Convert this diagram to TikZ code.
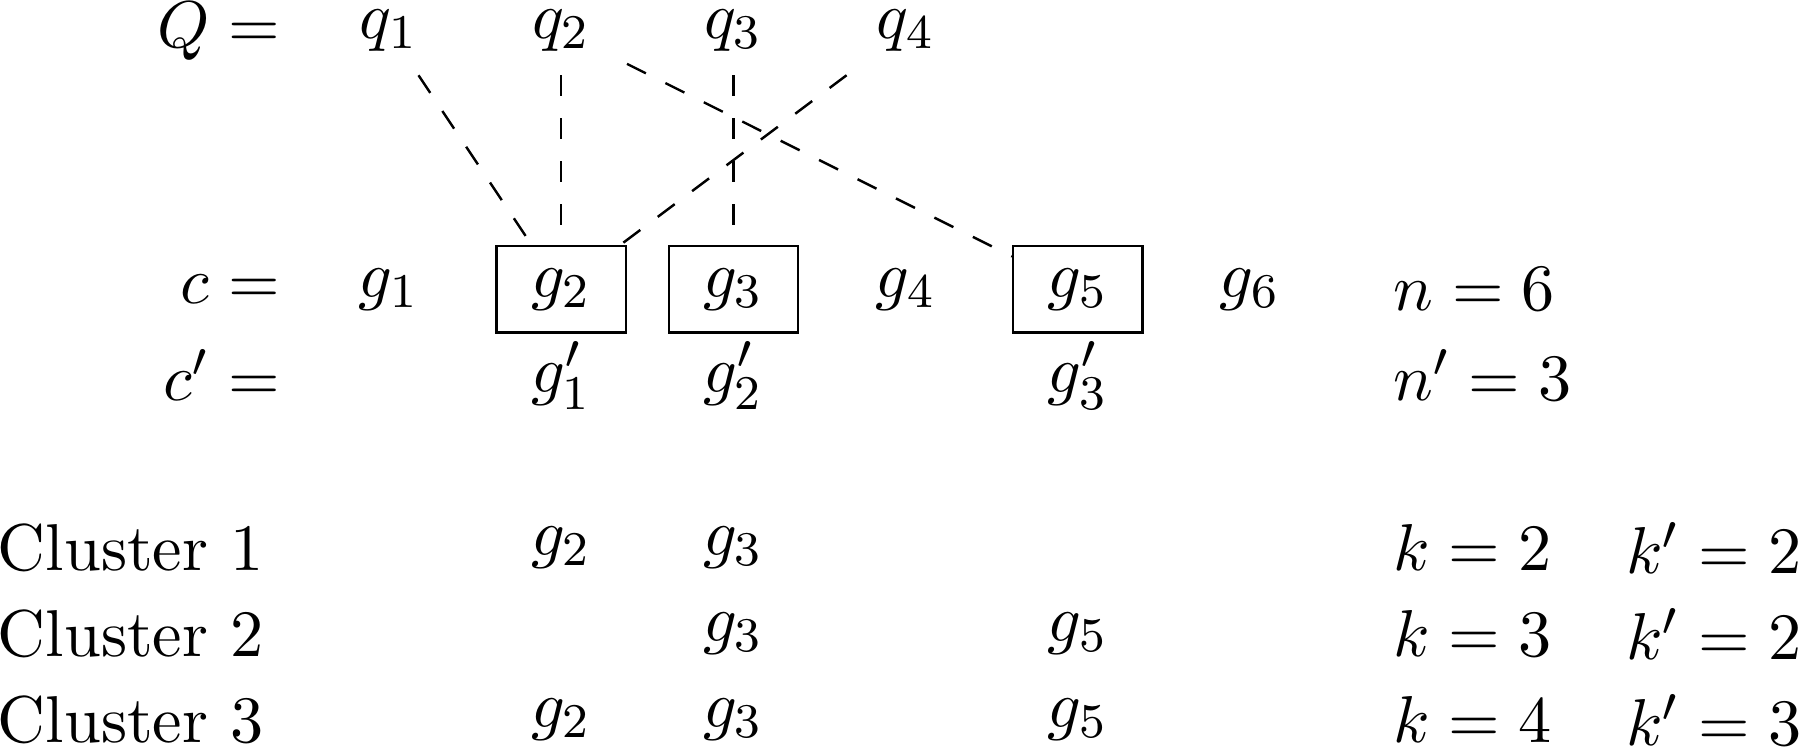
\documentclass[tikz,border=0pt,11pt]{standalone}

\begin{document}
\begin{tikzpicture}[
    cell/.style={minimum width=0.75cm, minimum height=0.5cm},
    picked/.style={cell, draw, line width=0.4pt},
    rowlab/.style={anchor=east},
    count/.style={anchor=west},
    link/.style={dash pattern=on 3.5pt off 3.6pt},
]
\useasboundingbox (-1.259,-4.175) rectangle (9.194,0.18);

% ---- query genes ----
\node[rowlab] (Qlab) at (0.5,0) {$Q =$};
\node[cell] (q1) at (1,0) {$q_1$};
\node[cell] (q2) at (2,0) {$q_2$};
\node[cell] (q3) at (3,0) {$q_3$};
\node[cell] (q4) at (4,0) {$q_4$};

% ---- chromosome c ----
\node[rowlab] (clab) at (0.5,-1.5) {$c =$};
\node[cell] (g1) at (1,-1.5) {$g_1$};
\node[picked] (g2) at (2,-1.5) {$g_2$};
\node[picked] (g3) at (3,-1.5) {$g_3$};
\node[cell] (g4) at (4,-1.5) {$g_4$};
\node[picked] (g5) at (5,-1.5) {$g_5$};
\node[cell] (g6) at (6,-1.5) {$g_6$};
\node[count] (n) at (6.7,-1.5) {$n = 6$};

% ---- reduced chromosome c' ----
\node[rowlab] (cplab) at (0.5,-2) {$c' =$};
\node[cell] (gp1) at (2,-2) {$g'_1$};
\node[cell] (gp2) at (3,-2) {$g'_2$};
\node[cell] (gp3) at (5,-2) {$g'_3$};
\node[count] (np) at (6.7,-2) {$n' = 3$};

% ---- matches ----
\draw[link] (q1) -- (g2);
\draw[link] (q2) -- (g2);
\draw[link] (q2) -- (g5);
\draw[link] (q3) -- (g3);
\draw[link] (q4) -- (g2);

% ---- clusters ----
\node (cl1) at (-0.5,-3) {Cluster 1};
\node[cell] (c1g2) at (2,-3) {$g_2$};
\node[cell] (c1g3) at (3,-3) {$g_3$};
\node[count] (k1) at (6.7,-3) {$k = 2$};
\node[count] (kp1) at (8.05,-3) {$k' = 2$};

\node (cl2) at (-0.5,-3.5) {Cluster 2};
\node[cell] (c2g3) at (3,-3.5) {$g_3$};
\node[cell] (c2g5) at (5,-3.5) {$g_5$};
\node[count] (k2) at (6.7,-3.5) {$k = 3$};
\node[count] (kp2) at (8.05,-3.5) {$k' = 2$};

\node (cl3) at (-0.5,-4) {Cluster 3};
\node[cell] (c3g2) at (2,-4) {$g_2$};
\node[cell] (c3g3) at (3,-4) {$g_3$};
\node[cell] (c3g5) at (5,-4) {$g_5$};
\node[count] (k3) at (6.7,-4) {$k = 4$};
\node[count] (kp3) at (8.05,-4) {$k' = 3$};
\end{tikzpicture}
\end{document}
